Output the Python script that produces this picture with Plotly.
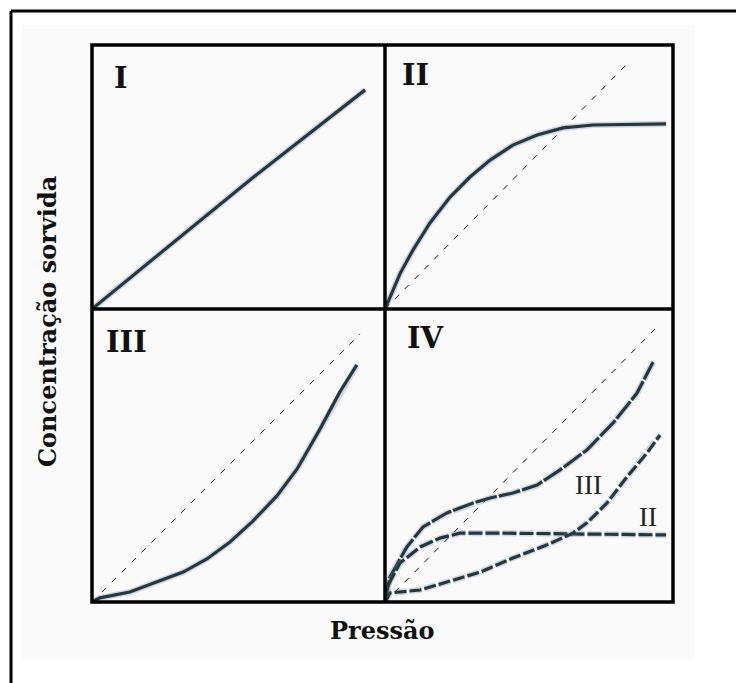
import plotly.graph_objects as go

W, H = 736, 683

# Isotherm curves, each in percent of its own panel (x: pressure, y: sorbed concentration)
linear_x = [0, 53.9, 93.2]
linear_y = [0, 48.9, 83.0]

langmuir_x = [0, 5.3, 9.7, 15.6, 22.6, 29.5, 36.5, 44.4, 52.8, 61.8, 72.2, 97.6]
langmuir_y = [0, 13.6, 22.3, 32.6, 42.4, 50.0, 56.4, 62.1, 65.9, 68.6, 69.7, 70.1]
diag2_x = [0, 84.4]
diag2_y = [0, 93.2]

convex_x = [0, 2.7, 12.9, 22.2, 31.1, 39.2, 47.1, 54.9, 63.1, 70.0, 77.8, 84.6, 90.4]
convex_y = [0, 1.4, 3.4, 6.8, 10.2, 14.7, 20.5, 27.6, 36.2, 45.4, 59.0, 71.7, 80.9]
diag3_x = [0, 91.5]
diag3_y = [0, 91.5]

# Panel IV: combined behaviour plus the two reference shapes
mixed_x = [0, 1.7, 7.6, 13.2, 21.5, 30.6, 36.5, 44.4, 52.8, 60.8, 70.1, 79.2, 87.5, 93.1]
mixed_y = [0, 8.5, 18.8, 25.6, 30.4, 33.8, 35.5, 37.2, 39.9, 45.1, 51.9, 61.1, 71.3, 81.9]
plateau_x = [0, 0.7, 5.2, 12.2, 19.1, 26.0, 40.0, 60.0, 80.0, 97.6]
plateau_y = [0, 5.1, 13.3, 18.8, 21.8, 23.5, 23.5, 23.3, 23.1, 22.9]
lower_x = [0, 1.7, 12.2, 21.5, 33.0, 44.4, 56.3, 65.3, 70.1, 77.1, 84.0, 91.0, 95.5]
lower_y = [0, 3.1, 4.1, 6.8, 10.2, 15.0, 19.5, 23.5, 27.0, 33.8, 42.7, 50.9, 57.0]
diag4_x = [0, 94.1]
diag4_y = [0, 93.5]

panel_labels = ["I", "II", "III", "IV"]
curve_tags = ["III", "II"]
x_title = "Pressão"
y_title = "Concentração sorvida"

CURVE = "#24393a"
HALO = "rgba(120,130,200,0.30)"
FONT_SERIF = "DejaVu Serif"


def px_x(p):
    return p / W


def px_y(p):
    return 1 - p / H


# Grid of panels in pixels
LEFT, MID_X, RIGHT = 92, 385, 673
TOP, MID_Y, BOTTOM = 45, 309, 602
boxes = {
    1: (LEFT, TOP, MID_X, MID_Y),
    2: (MID_X, TOP, RIGHT, MID_Y),
    3: (LEFT, MID_Y, MID_X, BOTTOM),
    4: (MID_X, MID_Y, RIGHT, BOTTOM),
}

fig = go.Figure()


def add_curve(n, xs, ys, dash="solid", width=3.2):
    ax = "" if n == 1 else str(n)
    fig.add_trace(go.Scatter(x=xs, y=ys, mode="lines", xaxis="x" + ax, yaxis="y" + ax,
                             line=dict(color=HALO, width=width + 3, dash=dash),
                             hoverinfo="skip", showlegend=False))
    fig.add_trace(go.Scatter(x=xs, y=ys, mode="lines", xaxis="x" + ax, yaxis="y" + ax,
                             line=dict(color=CURVE, width=width, dash=dash),
                             showlegend=False))


def add_diag(n, xs, ys):
    ax = "" if n == 1 else str(n)
    fig.add_trace(go.Scatter(x=xs, y=ys, mode="lines", xaxis="x" + ax, yaxis="y" + ax,
                             line=dict(color="#111111", width=1, dash="6px,8px"),
                             showlegend=False))


add_curve(1, linear_x, linear_y)

add_diag(2, diag2_x, diag2_y)
add_curve(2, langmuir_x, langmuir_y)

add_diag(3, diag3_x, diag3_y)
add_curve(3, convex_x, convex_y)

add_diag(4, diag4_x, diag4_y)
add_curve(4, mixed_x, mixed_y, dash="22px,2px")
add_curve(4, plateau_x, plateau_y, dash="14px,3px")
add_curve(4, lower_x, lower_y, dash="12px,3px")

layout = dict(
    width=W, height=H,
    margin=dict(l=0, r=0, t=0, b=0),
    paper_bgcolor="white", plot_bgcolor="rgba(0,0,0,0)",
    showlegend=False,
)

for n, (l, t, r, b) in boxes.items():
    ax = "" if n == 1 else str(n)
    common = dict(range=[0, 100], showgrid=False, zeroline=False, showticklabels=False,
                  ticks="", showline=False, fixedrange=True)
    layout["xaxis" + ax] = dict(domain=[px_x(l), px_x(r)], anchor="y" + ax, **common)
    layout["yaxis" + ax] = dict(domain=[px_y(b), px_y(t)], anchor="x" + ax, **common)

fig.update_layout(**layout)

# faint page tint
fig.add_shape(type="rect", xref="paper", yref="paper",
              x0=px_x(22), x1=px_x(695), y0=px_y(660), y1=px_y(25),
              fillcolor="rgb(250,250,250)", line=dict(width=0), layer="below")

# outer frame of the page (left and top edges)
fig.add_shape(type="line", xref="paper", yref="paper",
              x0=px_x(11), x1=px_x(11), y0=px_y(11), y1=0,
              line=dict(color="black", width=3))
fig.add_shape(type="line", xref="paper", yref="paper",
              x0=px_x(11), x1=1, y0=px_y(11), y1=px_y(11),
              line=dict(color="black", width=3))

# 2x2 panel grid
GRID_W = 3.5
fig.add_shape(type="rect", xref="paper", yref="paper",
              x0=px_x(LEFT), x1=px_x(RIGHT), y0=px_y(BOTTOM), y1=px_y(TOP),
              line=dict(color="black", width=GRID_W), layer="above")
fig.add_shape(type="line", xref="paper", yref="paper",
              x0=px_x(MID_X), x1=px_x(MID_X), y0=px_y(BOTTOM), y1=px_y(TOP),
              line=dict(color="black", width=GRID_W), layer="above")
fig.add_shape(type="line", xref="paper", yref="paper",
              x0=px_x(LEFT), x1=px_x(RIGHT), y0=px_y(MID_Y), y1=px_y(MID_Y),
              line=dict(color="black", width=GRID_W), layer="above")


def label(text, cx, cy, family, size, color="#111111", angle=0):
    fig.add_annotation(x=px_x(cx), y=px_y(cy), xref="paper", yref="paper",
                       xanchor="center", yanchor="middle", text=text,
                       textangle=angle, showarrow=False,
                       font=dict(family=family, size=size, color=color))


# panel numerals
label_pos = [(121, 78), (415, 75), (127, 342), (425, 338)]
for text, (cx, cy) in zip(panel_labels, label_pos):
    label("<b>" + text + "</b>", cx, cy, FONT_SERIF, 29)

# curve tags inside panel IV
tag_pos = [(588, 485), (648, 517)]
for text, (cx, cy) in zip(curve_tags, tag_pos):
    label(text, cx, cy, "Liberation Serif", 27, "#222222")

# axis titles
label("<b>" + x_title + "</b>", 383, 630, FONT_SERIF, 24)
label("<b>" + y_title + "</b>", 47, 322, FONT_SERIF, 24, angle=-90)

fig.write_html("out.html")
